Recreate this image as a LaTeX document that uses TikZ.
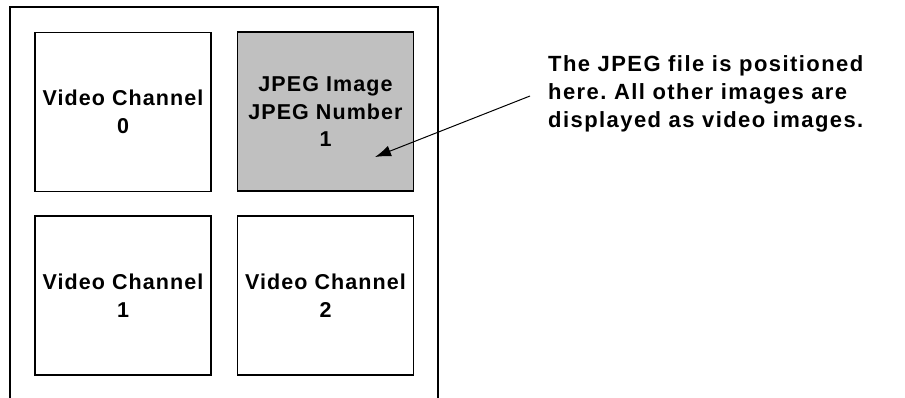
\documentclass[tikz,border=0pt]{standalone}
\usepackage{fontspec}
\setmainfont{Liberation Sans}
\newfontfamily\cellfont[LetterSpace=5]{Liberation Sans}
\newfontfamily\notefont[LetterSpace=6.5]{Liberation Sans}
\usetikzlibrary{arrows.meta}
\begin{document}
\frenchspacing
\begin{tikzpicture}[x=1pt,y=-1pt,
  frame/.style={line width=1.6pt},
  cell/.style={draw,line width=1.6pt,minimum width=176pt,minimum height=159pt,inner sep=0pt,
    align=center,font=\cellfont\fontsize{21.5}{27.5}\selectfont\bfseries},
  note/.style={align=left,inner sep=0pt,font=\notefont\fontsize{22}{28}\selectfont\bfseries},
  pointer/.style={line width=1pt,-{Latex[length=16pt,width=11pt]}}]
\useasboundingbox (0,0) rectangle (905,398);
\draw[frame] (10,398) -- (10,7) -- (438,7) -- (438,398);
\node[cell] (c0) at (123,112) {Video Channel\\0};
\node[cell,fill={rgb,255:red,192;green,192;blue,192}] (j1) at (325.5,111.5) {JPEG Image\\JPEG Number\\1};
\node[cell] (c1) at (123,295.5) {Video Channel\\1};
\node[cell] (c2) at (325.5,295.5) {Video Channel\\2};
\node[note,anchor=north west] (txt) at (548,55) {The JPEG file is positioned\\here. All other images are\\displayed as video images.};
\coordinate (from) at (530,96);
\coordinate (to) at (375,157);
\draw[pointer] (from) -- (to);
\end{tikzpicture}
\end{document}
